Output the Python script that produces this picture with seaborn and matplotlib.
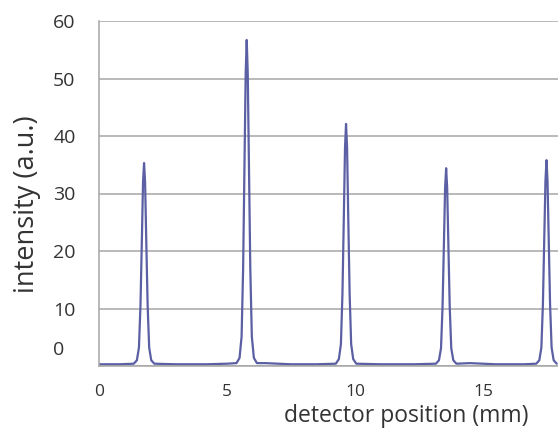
import matplotlib.pyplot as plt
import seaborn as sns
from matplotlib.transforms import ScaledTranslation

# Detector profile (mm, a.u.)
position_mm = [
    0.0, 0.8,
    1.36, 1.48, 1.56, 1.62, 1.67, 1.72, 1.76, 1.80, 1.85, 1.90, 1.96, 2.04, 2.16,
    3.0, 4.2, 5.0,
    5.37, 5.49, 5.57, 5.63, 5.68, 5.73, 5.77, 5.81, 5.86, 5.91, 5.97, 6.05, 6.17,
    6.5, 7.5, 8.5,
    9.25, 9.37, 9.45, 9.51, 9.56, 9.61, 9.65, 9.69, 9.74, 9.79, 9.85, 9.93, 10.05,
    11.0, 12.3,
    13.16, 13.28, 13.36, 13.42, 13.47, 13.52, 13.56, 13.60, 13.65, 13.70, 13.76, 13.84, 13.96,
    14.5, 15.5, 16.6,
    17.08, 17.20, 17.28, 17.34, 17.39, 17.44, 17.48, 17.52, 17.57, 17.62, 17.68, 17.76, 17.88,
]
intensity = [
    0.3, 0.3,
    0.4, 1.0, 3.2, 10.5, 21, 32, 35.3, 32, 21, 10.5, 3.2, 1.0, 0.4,
    0.3, 0.3, 0.4,
    0.5, 1.4, 5.1, 17, 34, 51, 56.7, 51, 34, 17, 5.1, 1.4, 0.5,
    0.5, 0.3, 0.3,
    0.4, 1.2, 3.8, 12.6, 25, 38, 42.1, 38, 25, 12.6, 3.8, 1.2, 0.4,
    0.3, 0.3,
    0.4, 1.0, 3.1, 10.3, 20.6, 31, 34.4, 31, 20.6, 10.3, 3.1, 1.0, 0.4,
    0.5, 0.3, 0.3,
    0.4, 1.0, 3.2, 10.7, 21.5, 32.2, 35.8, 32.2, 21.5, 10.7, 3.2, 1.0, 0.4,
]
x_ticks = [0, 5, 10, 15]
y_ticks = [0, 10, 20, 30, 40, 50, 60]

sns.set_style("white")
plt.rcParams['font.family'] = ['Open Sans', 'DejaVu Sans']
text_color = '#333333'
grid_color = '#a6a6a6'

fig = plt.figure(figsize=(5.58, 4.28), dpi=100)
# axes runs past the right edge, the reference is cropped there
ax = fig.add_axes([99 / 558, 1 - 366 / 428, 614.4 / 558, 345 / 428])

sns.lineplot(x=position_mm, y=intensity, color='#5b5fa3', linewidth=1.6, ax=ax)

ax.set_xlim(0, 24)
ax.set_ylim(0, 60)
ax.set_xticks(x_ticks)
ax.set_yticks(y_ticks)
ax.yaxis.grid(True, color=grid_color, linewidth=1.1)
ax.set_axisbelow(True)

for side in ['top', 'right']:
    ax.spines[side].set_visible(False)
for side in ['left', 'bottom']:
    ax.spines[side].set_color(grid_color)
    ax.spines[side].set_linewidth(1.1)

ax.tick_params(axis='x', length=5, width=1, color=grid_color, pad=8,
               labelsize=12.5, labelcolor=text_color)
ax.tick_params(axis='y', length=0, pad=33, labelsize=14, labelcolor=text_color)
for lab in ax.get_yticklabels():
    lab.set_ha('left')
# the "0" label sits a bit above its gridline in the reference
ylabels = ax.get_yticklabels()
ylabels[0].set_transform(ylabels[0].get_transform()
                         + ScaledTranslation(0, 0.18, fig.dpi_scale_trans))

ax.set_xlabel('detector position (mm)', fontsize=16.5, color=text_color, labelpad=3)
ax.set_ylabel('intensity (a.u.)', fontsize=19.5, color=text_color)
ax.yaxis.set_label_coords(-0.095, 0.47)

fig.savefig('out.png', dpi=100)
